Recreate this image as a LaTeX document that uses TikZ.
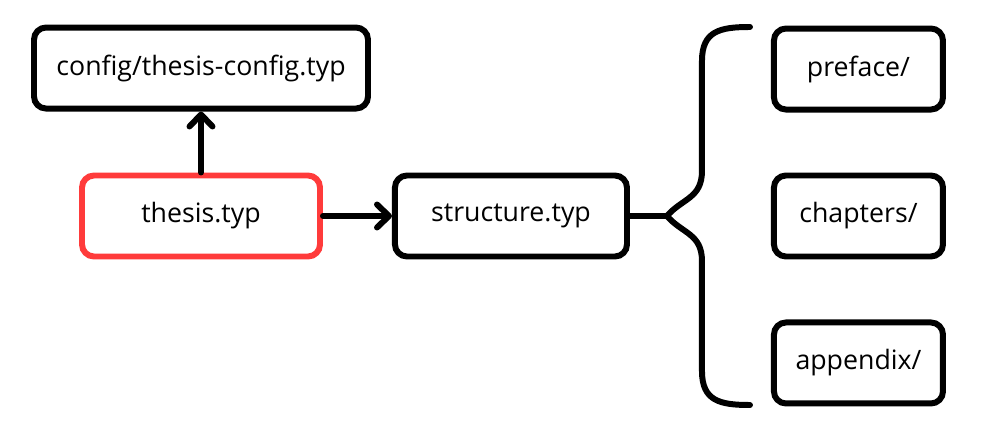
\documentclass[tikz,border=0pt]{standalone}
\usepackage{fontspec}
\setmainfont{Open Sans}
\usetikzlibrary{arrows.meta,positioning}
\definecolor{mainred}{RGB}{255,59,59}

\begin{document}
\begin{tikzpicture}[
    file/.style={draw, line width=3.4pt, rounded corners=0.24cm, minimum height=1.62cm, align=center, font=\fontsize{15.2}{18}\selectfont},
    mainfile/.style={file, draw=mainred},
    link/.style={line width=3.4pt, line cap=round},
    >={Straight Barb[length=0.24cm, width=0.46cm, round]}
]
\useasboundingbox (0,0) rectangle (19.9,-8.64);
\node[mainfile, minimum width=4.76cm] (thesis) at (4.02,-4.32) {thesis.typ};
\node[file, minimum width=6.68cm, above=1.22cm of thesis] (config) {config/thesis-config.typ};
\node[file, minimum width=4.64cm, right=1.38cm of thesis] (structure) {structure.typ};
\node[file, minimum width=3.38cm, right=2.82cm of structure] (chapters) {chapters/};
\node[file, minimum width=3.38cm, above=1.2cm of chapters] (preface) {preface/};
\node[file, minimum width=3.38cm, below=1.2cm of chapters] (appendix) {appendix/};
\draw[->, link] (thesis) -- (config);
\draw[->, link] (thesis) -- (structure);
% brace round the folders
\coordinate[right=0.74cm of structure.east] (tip);
\coordinate (bt1) at ([shift={(0.7,0.9)}]tip);
\coordinate (bt2) at ([shift={(0.7,3.1)}]tip);
\coordinate (btop) at ([shift={(1.66,3.78)}]tip);
\coordinate (bb1) at ([shift={(0.7,-0.9)}]tip);
\coordinate (bb2) at ([shift={(0.7,-3.1)}]tip);
\coordinate (bbot) at ([shift={(1.66,-3.78)}]tip);
\draw[link] (structure.east) -- (tip);
\draw[link] (btop) .. controls +(-0.6,0) and +(0,0.6) .. (bt2) -- (bt1)
    .. controls +(0,-0.55) and +(0.3,0.35) .. (tip)
    .. controls +(0.3,-0.35) and +(0,0.55) .. (bb1) -- (bb2)
    .. controls +(0,-0.6) and +(-0.6,0) .. (bbot);
\end{tikzpicture}
\end{document}
